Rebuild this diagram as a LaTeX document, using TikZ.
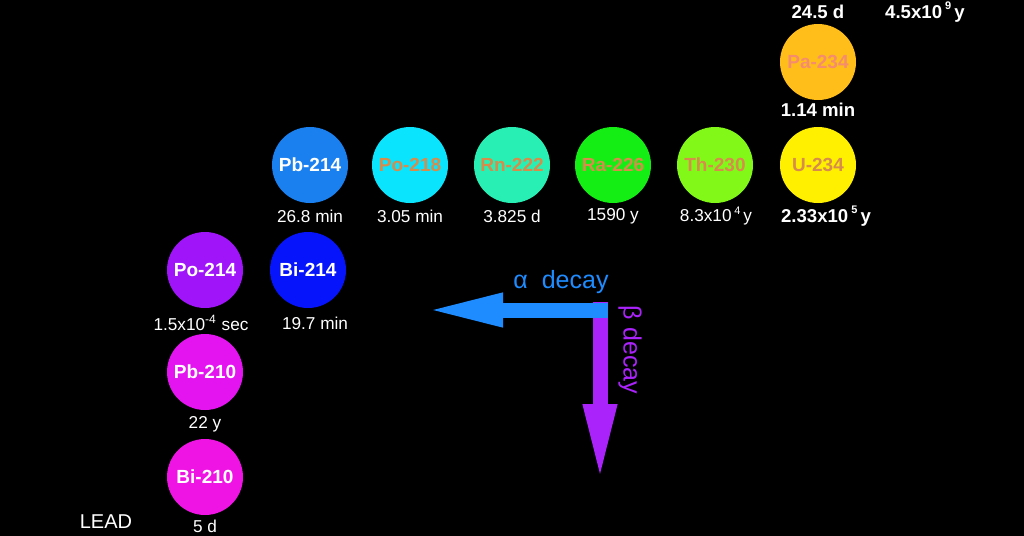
\documentclass[tikz,border=0pt]{standalone}
\usepackage{fontspec}
\setmainfont{Liberation Sans}
\usetikzlibrary{arrows.meta}

\definecolor{pbblue}{RGB}{26,128,240}
\definecolor{pocyan}{RGB}{10,228,252}
\definecolor{rnaqua}{RGB}{40,240,180}
\definecolor{ragreen}{RGB}{20,238,20}
\definecolor{thlime}{RGB}{130,248,25}
\definecolor{uyellow}{RGB}{255,240,0}
\definecolor{paamber}{RGB}{255,190,25}
\definecolor{biblue}{RGB}{5,20,250}
\definecolor{popurple}{RGB}{160,20,250}
\definecolor{pbmagenta}{RGB}{228,20,240}
\definecolor{bimagenta}{RGB}{240,20,228}
\definecolor{labelorange}{RGB}{215,140,75}
\definecolor{pasalmon}{RGB}{245,140,110}
\definecolor{alphablue}{RGB}{30,140,255}
\definecolor{betapurple}{RGB}{170,35,250}

\newcommand{\expo}[1]{\,\raisebox{0.85ex}{\fontsize{5.5}{6}\selectfont #1}\,}

\begin{document}
\begin{tikzpicture}[x=0.5pt, y=-0.5pt,
        nuclide/.style={circle, minimum size=38pt, inner sep=0pt, font=\fontsize{9.5}{12}\selectfont\bfseries},
        lighttext/.style={text=labelorange},
        halflife/.style={text=white, inner sep=0pt, font=\fontsize{8.6}{10}\selectfont},
        boldlife/.style={halflife, font=\fontsize{9.3}{11}\selectfont\bfseries},
        decayarrow/.style={line width=7.5pt, -{Triangle[length=40pt, width=15pt]}},
        decaylabel/.style={inner sep=0pt, font=\fontsize{12.5}{14}\selectfont}]
    \fill[black] (0,0) rectangle (1024,536);
    % uranium row
    \node[nuclide, fill=pbblue, text=white] (pb214) at (310,165) {Pb-214};
    \node[nuclide, fill=pocyan, lighttext] (po218) at (410,165) {Po-218};
    \node[nuclide, fill=rnaqua, lighttext] (rn222) at (512,165) {Rn-222};
    \node[nuclide, fill=ragreen, lighttext] (ra226) at (613,165) {Ra-226};
    \node[nuclide, fill=thlime, lighttext] (th230) at (715,165) {Th-230};
    \node[nuclide, fill=uyellow, lighttext] (u234) at (818,165) {U-234};
    \node[nuclide, fill=paamber, text=pasalmon] (pa234) at (818,62) {Pa-234};
    % lower part of the chain
    \node[nuclide, fill=biblue, text=white] (bi214) at (308,270) {Bi-214};
    \node[nuclide, fill=popurple, text=white] (po214) at (205,270) {Po-214};
    \node[nuclide, fill=pbmagenta, text=white] (pb210) at (205,372) {Pb-210};
    \node[nuclide, fill=bimagenta, text=white] (bi210) at (205,477) {Bi-210};
    % half lives
    \node[halflife] (tpb214) at (310,216) {26.8 min};
    \node[halflife] (tpo218) at (410,216) {3.05 min};
    \node[halflife] (trn222) at (512,216) {3.825 d};
    \node[halflife] (tra226) at (613,216) {1590 y};
    \node[halflife] (tth230) at (716,216) {8.3x10\expo{4}y};
    \node[boldlife] (tu234) at (826,216) {2.33x10\expo{5}y};
    \node[boldlife] (tpa234) at (818,110) {1.14 min};
    \node[boldlife] (tth234) at (818,12) {24.5 d};
    \node[boldlife] (tu238) at (925,12) {4.5x10\expo{9}y};
    \node[halflife] (tbi214) at (315,323) {19.7 min};
    \node[halflife] (tpo214) at (201,323) {1.5x10\textsuperscript{-4} sec};
    \node[halflife] (tpb210) at (205,424) {22 y};
    \node[halflife] (tbi210) at (205,526) {5 d};
    \node[halflife, font=\fontsize{10}{12}\selectfont] (lead) at (106,522) {LEAD};
    % legend arrows
    \coordinate (corner) at (608,310);
    \coordinate (betatop) at (600,302);
    \coordinate (alphaend) at (423,310);
    \coordinate (betaend) at (600,484);
    \draw[decayarrow, betapurple] (betatop) -- (betaend);
    \draw[decayarrow, alphablue] (corner) -- (alphaend);
    \node[decaylabel, text=alphablue] (alphalabel) at (561,282) {α\ \ decay};
    \node[decaylabel, text=betapurple, rotate=-90] (betalabel) at (630,350) {β decay};
\end{tikzpicture}
\end{document}
